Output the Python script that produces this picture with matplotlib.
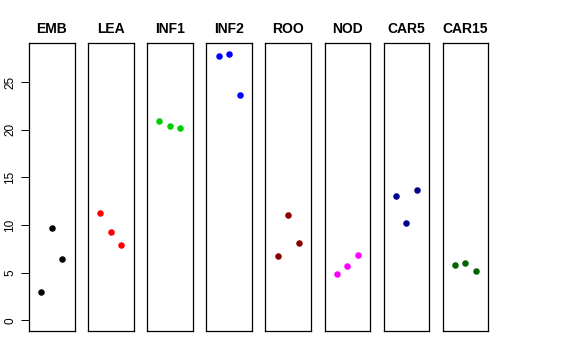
import matplotlib
matplotlib.use("Agg")
import matplotlib.pyplot as plt

plt.rcParams["font.family"] = ["Liberation Sans", "DejaVu Sans"]

panels = ["EMB", "LEA", "INF1", "INF2", "ROO", "NOD", "CAR5", "CAR15"]
colors = ["black", "red", "#00CD00", "blue", "#8B0000", "magenta", "#00008B", "#006400"]
reps = [1, 2, 3]

emb = [3.0, 9.67, 6.45]
lea = [11.3, 9.25, 7.95]
inf1 = [20.92, 20.4, 20.13]
inf2 = [27.69, 27.97, 23.64]
roo = [6.8, 11.06, 8.16]
nod = [4.88, 5.72, 6.84]
car5 = [13.0, 10.19, 13.64]
car15 = [5.79, 6.0, 5.17]
values = [emb, lea, inf1, inf2, roo, nod, car5, car15]

yticks = [0, 5, 10, 15, 20, 25]

W, H = 576, 360
fig = plt.figure(figsize=(W / 100, H / 100), dpi=100)

ymax = max(max(v) for v in values)
ypad = 0.04 * ymax

for i, (name, col, vals) in enumerate(zip(panels, colors, values)):
    left = 29 + i * 59.1
    ax = fig.add_axes([left / W, 29 / H, 45.5 / W, 288 / H])
    ax.scatter(reps, vals, color=col, s=22, zorder=3, linewidths=0)
    ax.set_xlim(-0.16, 4.16)
    ax.set_ylim(-ypad, ymax + ypad)
    ax.set_xticks([])
    for sp in ax.spines.values():
        sp.set_linewidth(0.9)
        sp.set_color("black")
    ax.set_title(name, fontsize=10, fontweight="bold", pad=7)
    if i == 0:
        ax.set_yticks(yticks)
        ax.set_yticklabels([str(t) for t in yticks], rotation=90, va="center", fontsize=8.5)
        ax.tick_params(axis="y", length=6, width=0.7, pad=3)
    else:
        ax.set_yticks([])

fig.savefig("out.png", dpi=100)
